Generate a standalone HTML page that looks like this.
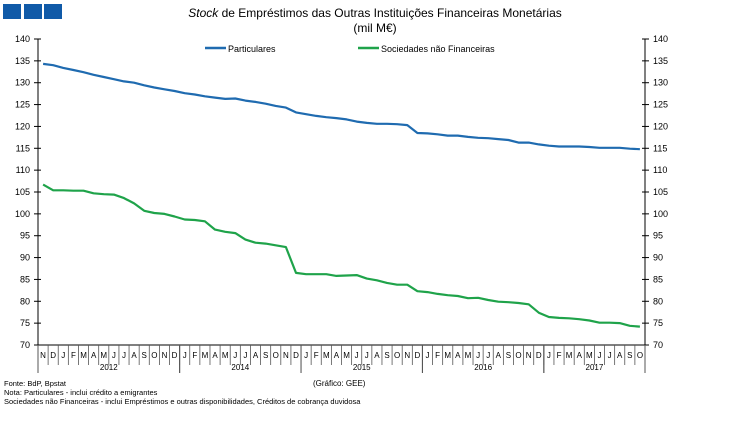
<!DOCTYPE html>
<html><head><meta charset="utf-8"><style>
body{margin:0;background:#fff;width:750px;height:418px;overflow:hidden}
svg{font-family:"Liberation Sans",sans-serif}
</style></head><body>
<svg id="s" width="750" height="418" xmlns="http://www.w3.org/2000/svg">
<rect x="3" y="4" width="18" height="15" fill="#105aa8"/>
<rect x="24" y="4" width="18" height="15" fill="#105aa8"/>
<rect x="44" y="4" width="18" height="15" fill="#105aa8"/>
<text x="375" y="17" font-size="12" text-anchor="middle"><tspan font-style="italic">Stock</tspan> de Empréstimos das Outras Instituições Financeiras Monetárias</text>
<text x="375" y="32" font-size="12" text-anchor="middle">(mil M€)</text>
<line x1="205" y1="48" x2="226" y2="48" stroke="#1f6bb0" stroke-width="2.5"/>
<text x="228" y="52" font-size="9">Particulares</text>
<line x1="358" y1="48" x2="379" y2="48" stroke="#1fa34a" stroke-width="2.5"/>
<text x="381" y="52" font-size="9">Sociedades não Financeiras</text>
<text x="4" y="386" font-size="7.5">Fonte: BdP, Bpstat</text>
<text x="4" y="395" font-size="7.5">Nota: Particulares - inclui crédito a emigrantes</text>
<text x="4" y="404" font-size="7.5">Sociedades não Financeiras - inclui Empréstimos e outras disponibilidades, Créditos de cobrança duvidosa</text>
<text x="313" y="386" font-size="8">(Gráfico: GEE)</text>
<g id="g"></g>
</svg>
<script>
var g=document.getElementById('g'),NS='http://www.w3.org/2000/svg';
function el(t,a,txt){var e=document.createElementNS(NS,t);for(var k in a)e.setAttribute(k,a[k]);if(txt)e.textContent=txt;g.appendChild(e);return e;}
var X0=38,X1=645,Y0=39,Y1=345;
function y(v){return Y0+(140-v)/70*(Y1-Y0);}
var n=60,w=(X1-X0)/n;
el('line',{x1:X0,y1:Y0,x2:X0,y2:Y1,stroke:'#000','stroke-width':1});
el('line',{x1:X1,y1:Y0,x2:X1,y2:Y1,stroke:'#000','stroke-width':1});
el('line',{x1:X0,y1:Y1,x2:X1,y2:Y1,stroke:'#000','stroke-width':1});
for(var v=70;v<=140;v+=5){var yy=y(v);
el('line',{x1:X0-4,y1:yy,x2:X0+3,y2:yy,stroke:'#000'});
el('line',{x1:X1-3,y1:yy,x2:X1+4,y2:yy,stroke:'#000'});
el('text',{x:X0-8,y:yy+3,'font-size':9,'text-anchor':'end'},''+v);
el('text',{x:X1+8,y:yy+3,'font-size':9},''+v);}
var m="NDJFMAMJJASONDJFMAMJJASONDJFMAMJJASONDJFMAMJJASONDJFMAMJJASO";
var yrs=[[0,14,'2012'],[14,26,'2014'],[26,38,'2015'],[38,50,'2016'],[50,60,'2017']];
for(var i=0;i<=n;i++){var xx=X0+i*w;el('line',{x1:xx,y1:Y1,x2:xx,y2:Y1+20,stroke:'#555','stroke-width':0.8});
if(i<n)el('text',{x:xx+w/2,y:Y1+13,'font-size':8,'text-anchor':'middle'},m[i]);}
yrs.forEach(function(r){var a=X0+r[0]*w,b=X0+r[1]*w;
el('line',{x1:a,y1:Y1,x2:a,y2:Y1+28,stroke:'#555'});el('line',{x1:b,y1:Y1,x2:b,y2:Y1+28,stroke:'#555'});
el('text',{x:(a+b)/2,y:Y1+25,'font-size':8,'text-anchor':'middle'},r[2]);});
var B=[134.3,134,133.4,132.9,132.4,131.8,131.3,130.8,130.3,130,129.4,128.9,128.5,128.1,127.6,127.3,126.9,126.6,126.3,126.4,125.9,125.6,125.2,124.7,124.3,123.2,122.8,122.4,122.1,121.9,121.6,121.1,120.8,120.6,120.6,120.5,120.3,118.5,118.4,118.2,117.9,117.9,117.6,117.4,117.3,117.1,116.9,116.3,116.3,115.9,115.6,115.4,115.4,115.4,115.3,115.1,115.1,115.1,114.9,114.8];
var G=[106.7,105.4,105.4,105.3,105.3,104.7,104.5,104.4,103.6,102.4,100.7,100.2,100.0,99.4,98.7,98.6,98.3,96.4,95.9,95.6,94.1,93.4,93.2,92.8,92.4,86.5,86.2,86.2,86.2,85.8,85.9,86.0,85.2,84.8,84.2,83.8,83.8,82.3,82.1,81.7,81.4,81.2,80.7,80.8,80.3,79.9,79.8,79.6,79.3,77.4,76.4,76.2,76.1,75.9,75.6,75.1,75.1,75.0,74.4,74.2];
function pl(d,c){el('polyline',{points:d.map(function(v,i){return (X0+(i+0.5)*w).toFixed(1)+','+y(v).toFixed(1)}).join(' '),fill:'none',stroke:c,'stroke-width':2.2,'stroke-linejoin':'round'});}
pl(B,'#1f6bb0');pl(G,'#1fa34a');
</script>
</body></html>
